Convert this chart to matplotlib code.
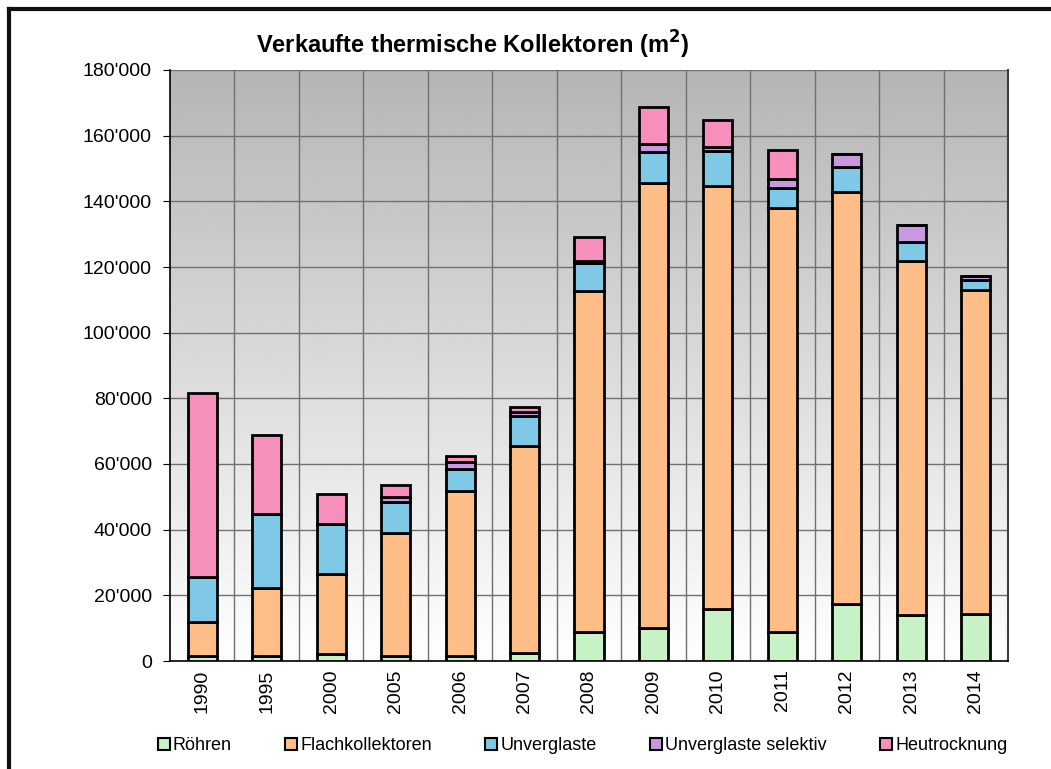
import matplotlib.pyplot as plt
import numpy as np
from matplotlib.lines import Line2D
from matplotlib.ticker import FuncFormatter

plt.rcParams['font.family'] = ['Liberation Sans', 'DejaVu Sans']

years = ['1990', '1995', '2000', '2005', '2006', '2007', '2008', '2009',
         '2010', '2011', '2012', '2013', '2014']

roehren = [1500, 1500, 2000, 1600, 1500, 2500, 8700, 10100, 15700, 8700, 17300, 14000, 14300]
flach = [10500, 20800, 24500, 37500, 50300, 63000, 104000, 135400, 129000, 129200, 125500, 107800, 98700]
unverglaste = [13500, 22500, 15300, 9400, 6800, 9200, 8600, 9600, 10600, 6100, 7800, 5900, 3000]
selektiv = [0, 0, 0, 1500, 2000, 1000, 500, 2400, 1100, 2700, 3900, 5100, 1400]
heu = [56000, 24000, 9200, 3700, 1900, 1800, 7300, 11200, 8400, 8900, 0, 0, 0]

series = [roehren, flach, unverglaste, selektiv, heu]
labels = ['Röhren', 'Flachkollektoren', 'Unverglaste', 'Unverglaste selektiv', 'Heutrocknung']
colors = ['#c6f2c6', '#ffbe88', '#7fc8e6', '#c898e0', '#f78fbd']

fig = plt.figure(figsize=(10.51, 7.69), dpi=100)
ax = fig.add_axes([170 / 1051, 108 / 769, 838 / 1051, 591 / 769])

# gray gradient background
grad = np.clip(np.linspace(0.71, 1.0, 256).reshape(-1, 1), 0, 0.99)
ax.imshow(grad[::-1], extent=[-0.5, len(years) - 0.5, 0, 180000], aspect='auto',
          cmap='gray', vmin=0, vmax=1, origin='lower', zorder=0)

x = np.arange(len(years))
bottom = np.zeros(len(years))
for vals, lab, col in zip(series, labels, colors):
    vals = np.array(vals, dtype=float)
    ax.bar(x, vals, 0.45, bottom=bottom, color=col, edgecolor='black', linewidth=2, zorder=3, label=lab)
    bottom += vals

ax.set_xlim(-0.5, len(years) - 0.5)
ax.set_ylim(0, 180000)
ax.set_yticks(np.arange(0, 180001, 20000))
ax.yaxis.set_major_formatter(FuncFormatter(lambda v, p: '0' if v == 0 else "{:d}'{:03d}".format(int(v) // 1000, int(v) % 1000)))
ax.set_xticks(x)
ax.set_xticklabels(years, rotation=90, fontsize=14)
ax.tick_params(axis='y', labelsize=14, length=5, pad=8)
ax.tick_params(axis='x', length=0, pad=6)

for b in np.arange(0.5, len(years) - 0.5, 1):
    ax.axvline(b, color='#707070', lw=1, zorder=1)
for yv in np.arange(20000, 180001, 20000):
    ax.axhline(yv, color='#707070', lw=1, zorder=1)

ax.spines['top'].set_visible(False)
ax.spines['right'].set_color('#404040')
ax.spines['right'].set_linewidth(1.5)
ax.spines['left'].set_linewidth(1.2)
ax.spines['bottom'].set_linewidth(1.2)

fig.text(473 / 1051, 1 - 45 / 769, 'Verkaufte thermische Kollektoren (m$^\\mathbf{2}$)',
         ha='center', va='center', fontsize=17, fontweight='bold')

handles = [Line2D([], [], marker='s', linestyle='none', markersize=8,
                  markerfacecolor=c, markeredgecolor='black', markeredgewidth=1.5) for c in colors]
fig.legend(handles, labels, loc='center', bbox_to_anchor=(582 / 1051, 1 - 746 / 769), ncol=5,
           frameon=False, fontsize=13, handlelength=0.8, handletextpad=0.1, columnspacing=2.9)

# outer frame
fig.add_artist(Line2D([9 / 1051, 9 / 1051], [0, 1 - 9 / 769], color='#111111', lw=3, transform=fig.transFigure))
fig.add_artist(Line2D([9 / 1051, 1], [1 - 9 / 769, 1 - 9 / 769], color='#111111', lw=3, transform=fig.transFigure))

fig.savefig('out.png', dpi=100)
